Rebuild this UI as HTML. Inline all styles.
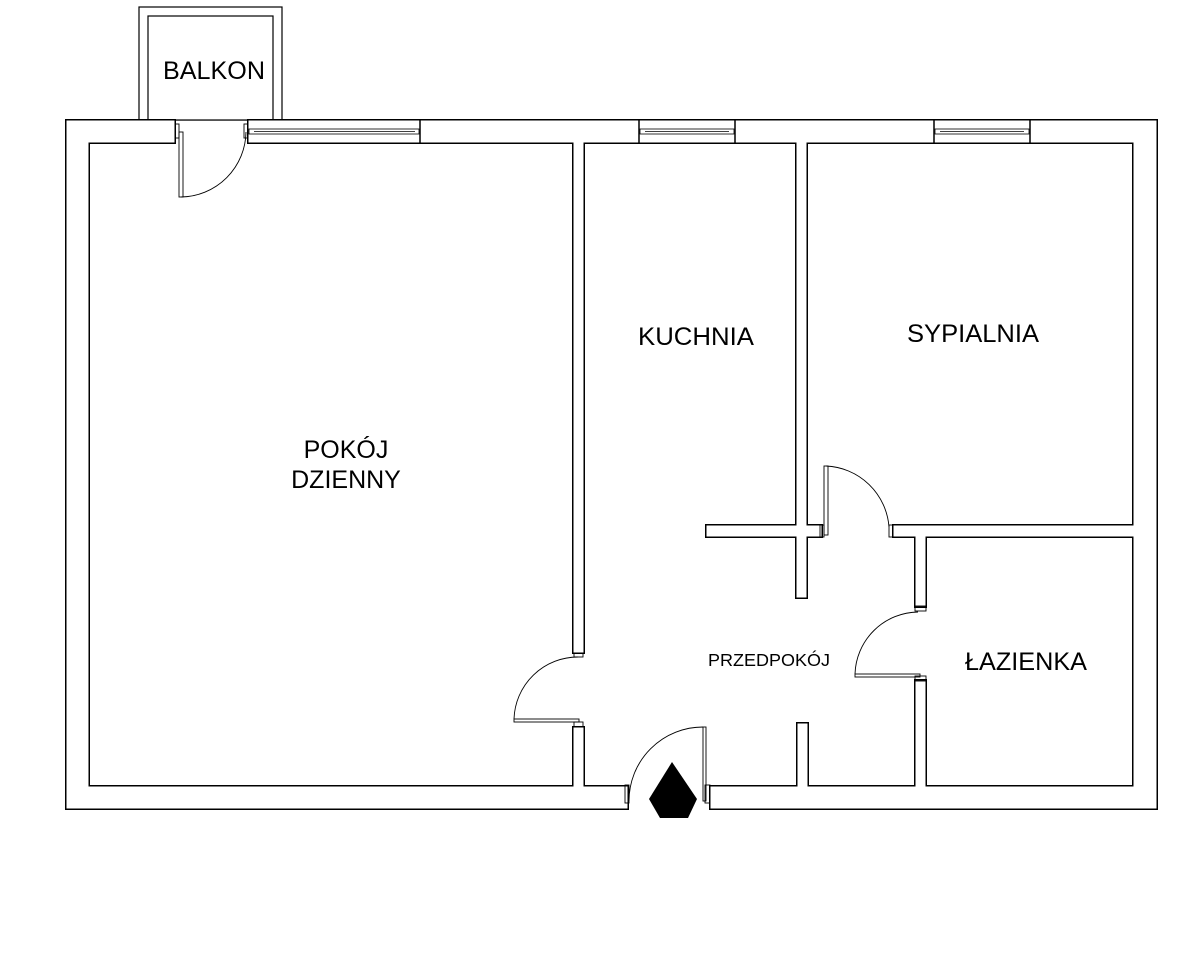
<!DOCTYPE html>
<html><head><meta charset="utf-8"><style>
html,body{margin:0;padding:0;background:#fff;}
svg{display:block;}
text{font-family:"Liberation Sans",Arial,sans-serif;fill:#000;}
</style></head><body>
<svg width="1200" height="960" viewBox="0 0 1200 960" xmlns="http://www.w3.org/2000/svg">
<rect width="1200" height="960" fill="#fff"/>
<!-- Balkon -->
<rect x="139" y="7" width="143" height="113" fill="#fff" stroke="#000" stroke-width="1.2"/>
<rect x="148" y="16" width="125" height="104" fill="#fff" stroke="#000" stroke-width="1.2"/>
<!-- walls black layer -->
<g fill="#000">
<rect x="65" y="119" width="111" height="25"/>
<rect x="247" y="119" width="911" height="25"/>
<rect x="65" y="119" width="25" height="691"/>
<rect x="1132" y="119" width="26" height="691"/>
<rect x="65" y="785" width="564" height="25"/>
<rect x="709" y="785" width="449" height="25"/>
<rect x="572" y="142" width="13" height="512"/>
<rect x="572" y="726" width="13" height="61"/>
<rect x="795" y="142" width="13" height="457"/>
<rect x="705" y="524" width="118" height="14"/>
<rect x="892" y="524" width="242" height="14"/>
<rect x="914" y="536" width="13" height="72"/>
<rect x="914" y="679" width="13" height="108"/>
<rect x="796" y="722" width="13" height="65"/>
</g>
<!-- walls white layer -->
<g fill="#fff">
<rect x="66.5" y="120.5" width="108" height="22"/>
<rect x="248.5" y="120.5" width="908" height="22"/>
<rect x="66.5" y="120.5" width="22" height="688"/>
<rect x="1133.5" y="120.5" width="23" height="688"/>
<rect x="66.5" y="786.5" width="561" height="22"/>
<rect x="710.5" y="786.5" width="446" height="22"/>
<rect x="573.5" y="120.5" width="10" height="532"/>
<rect x="573.5" y="727.5" width="10" height="81"/>
<rect x="796.5" y="120.5" width="10" height="477"/>
<rect x="706.5" y="525.5" width="115" height="11"/>
<rect x="893.5" y="525.5" width="241" height="11"/>
<rect x="915.5" y="525.5" width="10" height="81"/>
<rect x="915.5" y="680.5" width="10" height="128"/>
<rect x="797.5" y="723.5" width="10" height="85"/>
</g>
<!-- windows -->
<g fill="none" stroke="#000" stroke-width="0.8">
<line x1="248" y1="120" x2="248" y2="143"/><line x1="420" y1="120" x2="420" y2="143" stroke-width="1.5"/>
<rect x="249" y="129" width="170" height="5"/><line x1="254" y1="131.5" x2="415" y2="131.5"/>
<line x1="639" y1="120" x2="639" y2="143" stroke-width="1.5"/><line x1="735" y1="120" x2="735" y2="143" stroke-width="1.5"/>
<rect x="640" y="129" width="94" height="5"/><line x1="645" y1="131.5" x2="729" y2="131.5"/>
<line x1="934" y1="120" x2="934" y2="143" stroke-width="1.5"/><line x1="1030" y1="120" x2="1030" y2="143" stroke-width="1.5"/>
<rect x="935" y="129" width="94" height="5"/><line x1="940" y1="131.5" x2="1024" y2="131.5"/>
</g>
<!-- doors -->
<g fill="none" stroke="#000" stroke-width="0.9">
<rect x="175" y="124" width="4" height="14"/><rect x="244" y="124" width="4" height="14"/>
<rect x="179" y="132" width="4" height="65"/>
<path d="M181 197 A66 66 0 0 0 246 132"/>
<rect x="574" y="653" width="9" height="4"/><rect x="574" y="722" width="9" height="5"/>
<rect x="514" y="719" width="65" height="3"/>
<path d="M514 719 A64 64 0 0 1 578 657"/>
<rect x="625" y="785" width="4" height="18"/><rect x="705" y="785" width="5" height="18"/>
<rect x="703" y="727" width="3" height="74"/>
<path d="M703 727 A74 74 0 0 0 629 801"/>
<rect x="820" y="525" width="4" height="12"/><rect x="889" y="525" width="4" height="12"/>
<rect x="824" y="466" width="4" height="69"/>
<path d="M826 466 A66 66 0 0 1 889 527"/>
<rect x="915" y="606" width="11" height="5"/><rect x="915" y="676" width="11" height="5"/>
<rect x="855" y="674" width="65" height="3"/>
<path d="M855 674 A64 64 0 0 1 918 612"/>
</g>
<polygon points="672,762 697,799 688,818 660,818 649,799" fill="#000"/>
<!-- labels -->
<text x="214" y="79" font-size="25" text-anchor="middle" textLength="102" lengthAdjust="spacingAndGlyphs">BALKON</text>
<text x="346" y="458" font-size="25" text-anchor="middle">POKÓJ</text>
<text x="346" y="488" font-size="25" text-anchor="middle">DZIENNY</text>
<text x="696" y="345" font-size="25" text-anchor="middle" textLength="116" lengthAdjust="spacingAndGlyphs">KUCHNIA</text>
<text x="973" y="342" font-size="25" text-anchor="middle" textLength="132" lengthAdjust="spacingAndGlyphs">SYPIALNIA</text>
<text x="769" y="666" font-size="17.5" text-anchor="middle" textLength="122" lengthAdjust="spacingAndGlyphs">PRZEDPOKÓJ</text>
<text x="1026" y="670" font-size="25" text-anchor="middle" textLength="122" lengthAdjust="spacingAndGlyphs">ŁAZIENKA</text>
</svg>
</body></html>
